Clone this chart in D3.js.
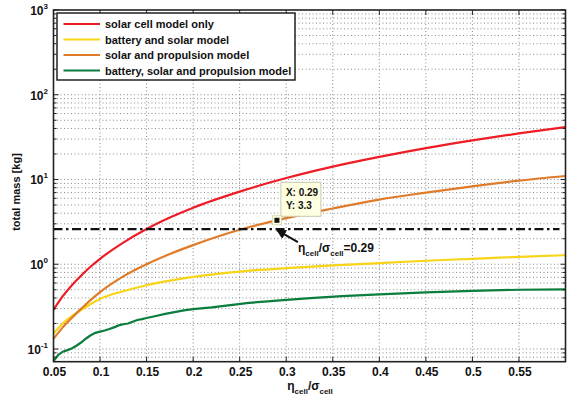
<!DOCTYPE html>
<html><head><meta charset="utf-8">
<script src="https://cdn.jsdelivr.net/npm/d3@7"></script>
<style>
body{margin:0;background:#fff;}
text{font-family:"Liberation Sans",Arial,Helvetica,sans-serif;font-weight:bold;fill:#111;}
</style></head>
<body><svg id="c" width="574" height="403"></svg>
<script>
// ---- data ----
const xMain   = [0.05,0.06,0.07,0.08,0.09,0.1,0.125,0.15,0.175,0.2,0.25,0.3,0.35,0.4,0.45,0.5,0.55,0.6];
const solarOnly       = [0.29,0.42,0.57,0.74,0.94,1.16,1.8,2.6,3.55,4.65,7.2,10.4,14.2,18.5,23.5,29,35,41.5];
const batterySolar    = [0.152,0.2,0.245,0.29,0.34,0.39,0.48,0.565,0.64,0.71,0.82,0.9,0.97,1.03,1.1,1.16,1.22,1.28];
const solarPropulsion = [0.132,0.18,0.235,0.3,0.38,0.47,0.72,1.0,1.32,1.68,2.55,3.5,4.55,5.8,7.0,8.3,9.7,11];
const xGreen = [0.05,0.055,0.06,0.065,0.07,0.075,0.08,0.085,0.09,0.095,0.1,0.105,0.11,0.115,0.12,0.125,0.13,0.135,0.14,0.145,0.15,0.16,0.17,0.18,0.19,0.2,0.22,0.24,0.26,0.28,0.3,0.33,0.36,0.4,0.45,0.5,0.55,0.6];
const batterySolarPropulsion = [0.072,0.085,0.093,0.097,0.102,0.11,0.12,0.133,0.145,0.155,0.16,0.165,0.172,0.18,0.19,0.196,0.2,0.21,0.22,0.225,0.232,0.245,0.26,0.272,0.285,0.295,0.31,0.33,0.35,0.365,0.38,0.4,0.42,0.44,0.465,0.485,0.5,0.505];
const seriesNames = ["solar cell model only","battery and solar model","solar and propulsion model","battery, solar and propulsion model"];
const seriesColors = ["#ee1c25","#f8d416","#e07b2a","#0b7d3c"];
const xTicks = [0.05,0.1,0.15,0.2,0.25,0.3,0.35,0.4,0.45,0.5,0.55];
const xTickLabels = ["0.05","0.1","0.15","0.2","0.25","0.3","0.35","0.4","0.45","0.5","0.55"];
const yDecades = [0.1,1,10,100,1000];
const yExponents = ["-1","0","1","2","3"];
const thresholdMass = 2.6;
const tipX = 0.29, tipY = 3.3;

// ---- scales ----
const L=53.5, R=565.5, T=10, B=361.7;
const x = d3.scaleLinear().domain([0.05,0.6]).range([L,R]);
const y = d3.scaleLog().domain([Math.pow(10,-1.15),1000]).range([B,T]);
const svg = d3.select("#c");

// minor y values
const yMinor=[];
for(let e=-2;e<3;e++){for(let m=2;m<=9;m++){const v=m*Math.pow(10,e); if(v>y.domain()[0]&&v<1000) yMinor.push(v);}}

// ---- grid ----
const grid = svg.append("g").attr("stroke","#8a8a8a").attr("stroke-width",1).attr("stroke-dasharray","1,2.5");
grid.selectAll(".gx").data(xTicks.slice(1)).join("line").attr("x1",d=>x(d)).attr("x2",d=>x(d)).attr("y1",T).attr("y2",B);
grid.selectAll(".gy").data(yDecades.concat(yMinor).filter(v=>v<1000)).join("line").attr("x1",L).attr("x2",R).attr("y1",d=>y(d)).attr("y2",d=>y(d));

// ---- curves ----
svg.append("clipPath").attr("id","clp").append("rect").attr("x",L).attr("y",T).attr("width",R-L).attr("height",B-T);
const line = d3.line().x(d=>x(d[0])).y(d=>y(d[1])).curve(d3.curveMonotoneX);
const seriesData = [
  xMain.map((v,i)=>[v,solarOnly[i]]),
  xMain.map((v,i)=>[v,batterySolar[i]]),
  xMain.map((v,i)=>[v,solarPropulsion[i]]),
  xGreen.map((v,i)=>[v,batterySolarPropulsion[i]])
];
const cg = svg.append("g").attr("clip-path","url(#clp)");
seriesData.forEach((s,i)=>{
  cg.append("path").datum(s).attr("d",i===3?d3.line().x(d=>x(d[0])).y(d=>y(d[1])):line)
    .attr("fill","none").attr("stroke",seriesColors[i]).attr("stroke-width",2.2);
});

// threshold dash-dot
cg.append("line").attr("x1",L).attr("x2",R-6).attr("y1",y(thresholdMass)).attr("y2",y(thresholdMass))
  .attr("stroke","#111").attr("stroke-width",2.2).attr("stroke-dasharray","9,3.5,2.5,3.5");

// ---- frame and ticks ----
const ax = svg.append("g").attr("stroke","#222");
ax.append("rect").attr("x",L).attr("y",T).attr("width",R-L).attr("height",B-T).attr("fill","none").attr("stroke-width",1.6);
xTicks.forEach(v=>{
  ax.append("line").attr("x1",x(v)).attr("x2",x(v)).attr("y1",B).attr("y2",B-5).attr("stroke-width",1);
  ax.append("line").attr("x1",x(v)).attr("x2",x(v)).attr("y1",T).attr("y2",T+5).attr("stroke-width",1);
});
yDecades.forEach(v=>{
  ax.append("line").attr("x1",L).attr("x2",L+5).attr("y1",y(v)).attr("y2",y(v)).attr("stroke-width",1);
  ax.append("line").attr("x1",R).attr("x2",R-5).attr("y1",y(v)).attr("y2",y(v)).attr("stroke-width",1);
});
yMinor.forEach(v=>{
  ax.append("line").attr("x1",L).attr("x2",L+3).attr("y1",y(v)).attr("y2",y(v)).attr("stroke-width",1);
  ax.append("line").attr("x1",R).attr("x2",R-3).attr("y1",y(v)).attr("y2",y(v)).attr("stroke-width",1);
});

// tick labels
svg.selectAll(".xl").data(xTicks).join("text").attr("x",d=>x(d)+1).attr("y",376)
  .attr("text-anchor","middle").attr("font-size",12).text((d,i)=>xTickLabels[i]);
yDecades.forEach((v,i)=>{
  const t = svg.append("text").attr("x",48).attr("y",y(v)+5).attr("text-anchor","end").attr("font-size",12);
  t.append("tspan").text("10");
  t.append("tspan").attr("font-size",8).attr("dy",-6).text(yExponents[i]);
});

// axis labels
svg.append("text").attr("transform","translate(20,192) rotate(-90)").attr("text-anchor","middle").attr("font-size",11).text("total mass [kg]");
const xl = svg.append("text").attr("x",310).attr("y",390).attr("text-anchor","middle").attr("font-size",12);
xl.append("tspan").text("η");
xl.append("tspan").attr("font-size",8).attr("dy",4).text("cell");
xl.append("tspan").attr("dy",-4).text("/σ");
xl.append("tspan").attr("font-size",8).attr("dy",4).text("cell");

// ---- legend ----
const lg = svg.append("g");
lg.append("rect").attr("x",57).attr("y",13).attr("width",238).attr("height",67).attr("fill","#fff").attr("stroke","#222").attr("stroke-width",1.5);
seriesNames.forEach((n,i)=>{
  const yy = 24 + i*15.5;
  lg.append("line").attr("x1",63.5).attr("x2",100).attr("y1",yy).attr("y2",yy).attr("stroke",seriesColors[i]).attr("stroke-width",2.2);
  lg.append("text").attr("x",105).attr("y",yy+4).attr("font-size",11).text(n);
});

// ---- data tip ----
const tx=x(tipX), ty=y(tipY);
svg.append("rect").attr("x",tx+4).attr("y",ty-38).attr("width",40).attr("height",34).attr("fill","#ffffe1").attr("stroke","#c8c8b0").attr("stroke-width",1);
svg.append("text").attr("x",tx+9).attr("y",ty-24).attr("font-size",10).text("X: "+tipX);
svg.append("text").attr("x",tx+9).attr("y",ty-11).attr("font-size",10).text("Y: "+tipY);
svg.append("rect").attr("x",tx-4.5).attr("y",ty-4.5).attr("width",9).attr("height",9).attr("fill","#ffffe1").attr("stroke","#d8d8b8");
svg.append("rect").attr("x",tx-2.5).attr("y",ty-2.5).attr("width",5).attr("height",5).attr("fill","#111");

// arrow annotation
const ay = y(thresholdMass);
svg.append("defs").append("marker").attr("id","ah").attr("viewBox","0 0 10 10").attr("refX",9).attr("refY",5)
  .attr("markerWidth",5).attr("markerHeight",5).attr("orient","auto")
  .append("path").attr("d","M0,0 L10,5 L0,10 z").attr("fill","#111");
svg.append("line").attr("x1",tx+21).attr("y1",ay+13).attr("x2",tx).attr("y2",ay+1)
  .attr("stroke","#111").attr("stroke-width",2).attr("marker-end","url(#ah)");
const at = svg.append("text").attr("x",298).attr("y",252).attr("font-size",12);
at.append("tspan").text("η");
at.append("tspan").attr("font-size",8).attr("dy",4).text("cell");
at.append("tspan").attr("dy",-4).text("/σ");
at.append("tspan").attr("font-size",8).attr("dy",4).text("cell");
at.append("tspan").attr("dy",-4).text("=0.29");
</script></body></html>
